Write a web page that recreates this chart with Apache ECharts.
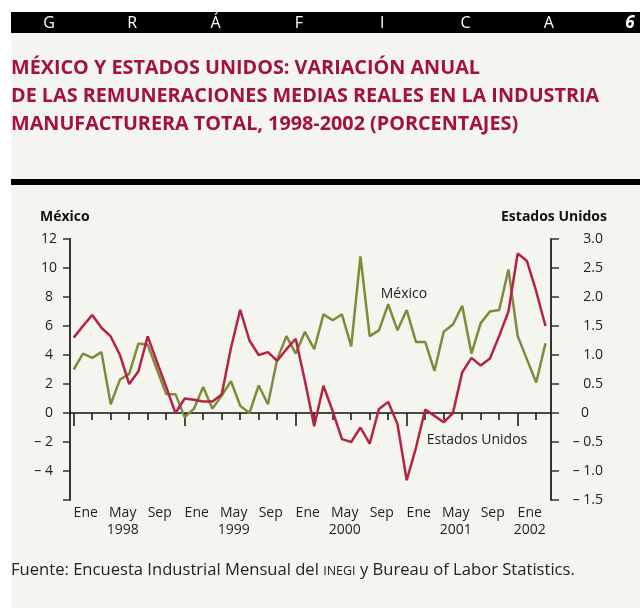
<!DOCTYPE html>
<html>
<head>
<meta charset="utf-8">
<script src="https://cdn.jsdelivr.net/npm/echarts@6/dist/echarts.min.js"></script>
<style>
html, body { margin: 0; padding: 0; background: #fff; }
#chart { width: 640px; height: 608px; }
</style>
</head>
<body>
<div id="chart"></div>
<script>
// variacion anual mensual, Ene 1998 - Abr 2002
var mexico = [3.0, 4.1, 3.8, 4.2, 0.6, 2.3, 2.7, 4.8, 4.7, 3.0, 1.3, 1.3,
  -0.3, 0.3, 1.8, 0.3, 1.2, 2.2, 0.5, 0.0, 1.9, 0.6, 3.7, 5.3,
  4.1, 5.6, 4.4, 6.8, 6.4, 6.8, 4.6, 10.8, 5.3, 5.7, 7.5, 5.7,
  7.1, 4.9, 4.9, 2.9, 5.6, 6.1, 7.4, 4.1, 6.2, 7.0, 7.1, 9.9,
  5.3, 3.7, 2.1, 4.8]
var estadosUnidos = [1.30, 1.50, 1.69, 1.47, 1.32, 1.00, 0.50, 0.72, 1.32, 0.88, 0.45, 0.00,
  0.25, 0.23, 0.20, 0.20, 0.32, 1.12, 1.78, 1.25, 1.00, 1.05, 0.90, 1.10,
  1.28, 0.55, -0.23, 0.47, 0.03, -0.45, -0.50, -0.25, -0.53, 0.07, 0.19, -0.19,
  -1.16, -0.60, 0.06, -0.05, -0.16, 0.00, 0.70, 0.95, 0.82, 0.94, 1.33, 1.75,
  2.75, 2.62, 2.10, 1.50]
var xLabels = ['Ene', 'May\n1998', 'Sep', 'Ene', 'May\n1999', 'Sep', 'Ene', 'May\n2000', 'Sep',
  'Ene', 'May\n2001', 'Sep', 'Ene\n2002']
var headerLetters = ['G', 'R', 'Á', 'F', 'I', 'C', 'A']
var titleLines = ['MÉXICO Y ESTADOS UNIDOS: VARIACIÓN ANUAL',
  'DE LAS REMUNERACIONES MEDIAS REALES EN LA INDUSTRIA',
  'MANUFACTURERA TOTAL, 1998-2002 (PORCENTAJES)']

var FONT = '"Open Sans", "DejaVu Sans", sans-serif'
var RED = '#b4233f'
var GREEN = '#7e8b3b'
var INK = '#222'

var tickVals = []
for (var i = 0; i < mexico.length - 1; i += 2) tickVals.push(i)
var eneVals = [0, 12, 24, 36, 48]
var labelVals = xLabels.map(function (d, k) { return k * 4 + 1.3 })

var chart = echarts.init(document.getElementById('chart'))

var graphic = [
  { type: 'rect', z: -10, shape: { x: 11, y: 33, width: 629, height: 575 }, style: { fill: '#f5f5f0' } },
  { type: 'rect', shape: { x: 11, y: 12, width: 629, height: 21 }, style: { fill: '#000' } },
  { type: 'rect', shape: { x: 11, y: 179, width: 629, height: 6 }, style: { fill: '#000' } },
  { type: 'text', x: 630, y: 23, style: { text: '6', fill: '#fff', font: 'italic bold 17px ' + FONT, align: 'center', verticalAlign: 'middle' } },
  { type: 'text', x: 40, y: 217, style: { text: 'México', fill: '#111', font: 'bold 14px ' + FONT, align: 'left', verticalAlign: 'middle' } },
  { type: 'text', x: 607, y: 217, style: { text: 'Estados Unidos', fill: '#111', font: 'bold 14px ' + FONT, align: 'right', verticalAlign: 'middle' } },
  { type: 'text', x: 404, y: 294, style: { text: 'México', fill: INK, font: '14px ' + FONT, align: 'center', verticalAlign: 'middle' } },
  { type: 'text', x: 477, y: 440, style: { text: 'Estados Unidos', fill: INK, font: '14px ' + FONT, align: 'center', verticalAlign: 'middle' } },
  { type: 'text', x: 11, y: 570, style: {
      text: '{a|Fuente: Encuesta Industrial Mensual del }{b|INEGI}{a| y Bureau of Labor Statistics.}',
      verticalAlign: 'middle',
      rich: {
        a: { fontFamily: FONT, fontSize: 16.6, fill: INK },
        b: { fontFamily: FONT, fontSize: 12.5, fill: INK, padding: [2, 0, 0, 0] }
      }
  } }
]
headerLetters.forEach(function (ch, k) {
  graphic.push({ type: 'text', x: 49 + k * 83.3, y: 23, style: { text: ch, fill: '#fff', font: '16px ' + FONT, align: 'center', verticalAlign: 'middle' } })
})
titleLines.forEach(function (t, k) {
  graphic.push({ type: 'text', x: 11, y: 68 + k * 28, style: { text: t, fill: '#a3123a', font: 'bold 19.8px ' + FONT, align: 'left', verticalAlign: 'middle' } })
})

var xBase = { type: 'value', min: -0.4, max: 51.6, splitLine: { show: false }, position: 'bottom' }

chart.setOption({
  animation: false,
  backgroundColor: '#fff',
  graphic: graphic,
  grid: { left: 70, right: 89, top: 239, bottom: 108 },
  xAxis: [
    Object.assign({}, xBase, {
      axisLine: { onZero: true, onZeroAxisIndex: 0, lineStyle: { color: '#111', width: 1.5 } },
      axisTick: { customValues: tickVals, length: 7, lineStyle: { color: '#111', width: 1.5 } },
      axisLabel: { show: false }
    }),
    Object.assign({}, xBase, {
      axisLine: { show: false, onZero: true, onZeroAxisIndex: 0 },
      axisTick: { customValues: eneVals, length: 13, lineStyle: { color: '#111', width: 1.5 } },
      axisLabel: { show: false }
    }),
    Object.assign({}, xBase, {
      axisLine: { show: false, onZero: false },
      axisTick: { show: false },
      axisLabel: {
        customValues: labelVals, margin: 5, lineHeight: 17,
        fontFamily: FONT, fontSize: 14, color: INK, align: 'center',
        formatter: function (v) { return xLabels[Math.round((v - 1.3) / 4)] }
      }
    })
  ],
  yAxis: [
    {
      type: 'value', min: -6, max: 12, interval: 2, position: 'left',
      splitLine: { show: false },
      axisLine: { show: true, onZero: false, lineStyle: { color: '#333', width: 2 } },
      axisTick: { show: true, length: 7, lineStyle: { color: '#333', width: 1.5 } },
      axisLabel: {
        margin: 13, fontFamily: FONT, fontSize: 14, color: INK, align: 'right',
        formatter: function (v) {
          if (v === -6) return ''
          var s = v < 0 ? '– ' + Math.abs(v) : String(v)
          return Math.abs(v) < 10 ? '{p|' + s + '}' : s
        },
        rich: { p: { fontFamily: FONT, fontSize: 14, color: INK, padding: [0, 4, 0, 0] } }
      }
    },
    {
      type: 'value', min: -1.5, max: 3, interval: 0.5, position: 'right',
      splitLine: { show: false },
      axisLine: { show: true, onZero: false, lineStyle: { color: '#333', width: 2 } },
      axisTick: { show: true, length: 8, lineStyle: { color: '#333', width: 1.5 } },
      axisLabel: {
        margin: 52, fontFamily: FONT, fontSize: 14, color: INK, align: 'right',
        formatter: function (v) {
          if (v === 0) return '{p|0}'
          return (v < 0 ? '– ' : '') + Math.abs(v).toFixed(1)
        },
        rich: { p: { fontFamily: FONT, fontSize: 14, color: INK, padding: [0, 14, 0, 0] } }
      }
    }
  ],
  series: [
    {
      name: 'México', type: 'line', xAxisIndex: 0, yAxisIndex: 0, showSymbol: false,
      lineStyle: { color: GREEN, width: 2.5 }, itemStyle: { color: GREEN },
      data: mexico.map(function (v, k) { return [k, v] })
    },
    {
      name: 'Estados Unidos', type: 'line', xAxisIndex: 0, yAxisIndex: 1, showSymbol: false,
      lineStyle: { color: RED, width: 2.5 }, itemStyle: { color: RED },
      data: estadosUnidos.map(function (v, k) { return [k, v] })
    }
  ]
})
</script>
</body>
</html>
